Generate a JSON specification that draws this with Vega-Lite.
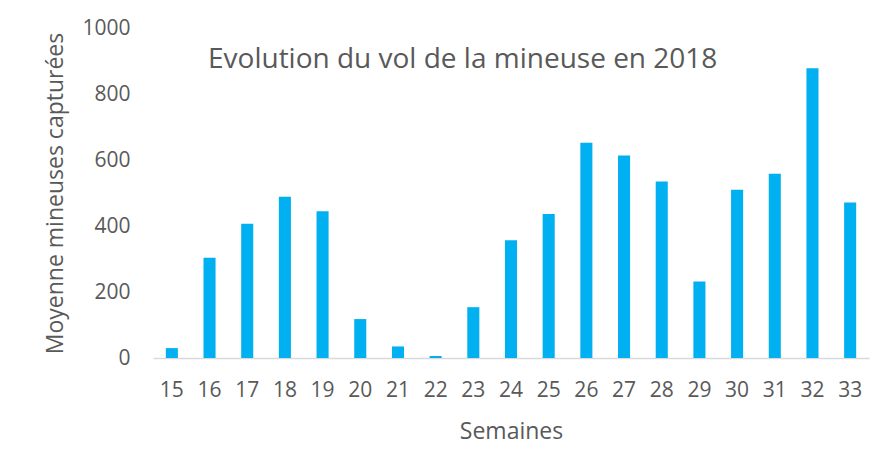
{
  "$schema": "https://vega.github.io/schema/vega-lite/v6.json",
  "width": 716,
  "height": 330,
  "autosize": {"type": "none"},
  "padding": {"left": 153, "top": 28, "right": 20, "bottom": 112},
  "background": "white",
  "title": {
    "text": "Evolution du vol de la mineuse en 2018",
    "anchor": "start",
    "frame": "group",
    "orient": "top",
    "baseline": "alphabetic",
    "offset": 0,
    "dx": 55,
    "dy": 79,
    "font": "Open Sans",
    "fontSize": 28,
    "fontWeight": "normal",
    "color": "#595959"
  },
  "data": {
    "values": [
      {"semaine": "15", "moyenne": 30},
      {"semaine": "16", "moyenne": 304},
      {"semaine": "17", "moyenne": 407},
      {"semaine": "18", "moyenne": 489},
      {"semaine": "19", "moyenne": 445},
      {"semaine": "20", "moyenne": 118},
      {"semaine": "21", "moyenne": 35},
      {"semaine": "22", "moyenne": 6},
      {"semaine": "23", "moyenne": 154},
      {"semaine": "24", "moyenne": 357},
      {"semaine": "25", "moyenne": 436},
      {"semaine": "26", "moyenne": 652},
      {"semaine": "27", "moyenne": 614},
      {"semaine": "28", "moyenne": 535},
      {"semaine": "29", "moyenne": 232},
      {"semaine": "30", "moyenne": 510},
      {"semaine": "31", "moyenne": 558},
      {"semaine": "32", "moyenne": 878},
      {"semaine": "33", "moyenne": 471}
    ]
  },
  "mark": {"type": "bar", "color": "#00B0F0"},
  "encoding": {
    "x": {
      "field": "semaine",
      "type": "ordinal",
      "title": "Semaines",
      "scale": {"paddingInner": 0.68, "paddingOuter": 0.34},
      "axis": {
        "labelAngle": 0,
        "ticks": false,
        "domainColor": "#d9d9d9",
        "domainWidth": 1.5,
        "labelPadding": 21,
        "titlePadding": 20
      }
    },
    "y": {
      "field": "moyenne",
      "type": "quantitative",
      "title": "Moyenne mineuses capturées",
      "scale": {"domain": [0, 1000]},
      "axis": {
        "values": [0, 200, 400, 600, 800, 1000],
        "format": "d",
        "grid": false,
        "domain": false,
        "ticks": false,
        "labelPadding": 23,
        "titlePadding": 14
      }
    }
  },
  "config": {
    "view": {"stroke": null},
    "axis": {
      "labelFont": "Open Sans",
      "labelFontSize": 21,
      "labelColor": "#595959",
      "titleFont": "Open Sans",
      "titleFontSize": 23,
      "titleFontWeight": "normal",
      "titleColor": "#595959"
    }
  }
}
